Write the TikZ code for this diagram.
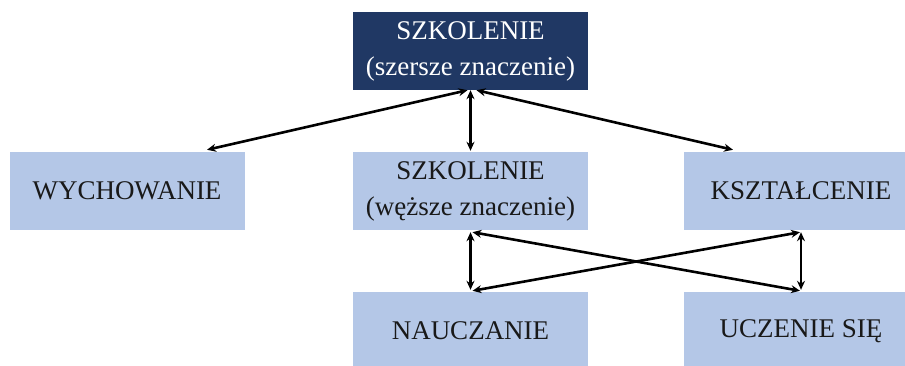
\documentclass[tikz,border=0pt]{standalone}
\usepackage{fontspec}
\setmainfont{Liberation Serif}
\usetikzlibrary{arrows.meta,positioning,calc}
\definecolor{ciemny}{HTML}{203864}
\definecolor{jasny}{HTML}{B4C7E7}

\begin{document}
\begin{tikzpicture}[
  x=1pt,y=-1pt,
  bx/.style={rectangle,minimum width=235pt,minimum height=78pt,inner sep=0pt,align=center,font=\fontsize{27}{36}\selectfont},
  jb/.style={bx,fill=jasny,text=black!90},
  cb/.style={bx,fill=ciemny,text=white},
  ar/.style={{Stealth[length=9pt,width=8pt]}-{Stealth[length=9pt,width=8pt]},line width=2.6pt}]
  \useasboundingbox (0,0) rectangle (905,365);
  \node[cb] (top) at (470.5,51) {SZKOLENIE\\(szersze znaczenie)};
  \node[jb] (wych) at (127,191) {WYCHOWANIE};
  \node[jb] (szk) at (470.5,191) {SZKOLENIE\\(węższe znaczenie)};
  \node[jb] (ksz) at (801,191) {KSZTAŁCENIE};
  \node[jb] (nau) at (470.5,331) {NAUCZANIE};
  \node[jb] (ucz) at (801,331) {UCZENIE SIĘ};
  % gorny poziom
  \draw[ar] ([xshift=-3pt]top.south) -- ([xshift=80pt,yshift=2pt]wych.north);
  \draw[ar] (top.south) -- ([yshift=1pt]szk.north);
  \draw[ar] ([xshift=6pt]top.south) -- ([xshift=-68pt,yshift=2pt]ksz.north);
  % dolny poziom
  \draw[ar] ([yshift=-2pt]szk.south) -- ([yshift=2pt]nau.north);
  \draw[ar] ([yshift=-2pt]ksz.south) -- ([yshift=2pt]ucz.north);
  \draw[ar] ([xshift=2pt,yshift=-2pt]szk.south) -- ([xshift=-1pt,yshift=1pt]ucz.north);
  \draw[ar] ([xshift=2pt,yshift=1pt]nau.north) -- ([xshift=-1pt,yshift=-2pt]ksz.south);
\end{tikzpicture}
\end{document}
